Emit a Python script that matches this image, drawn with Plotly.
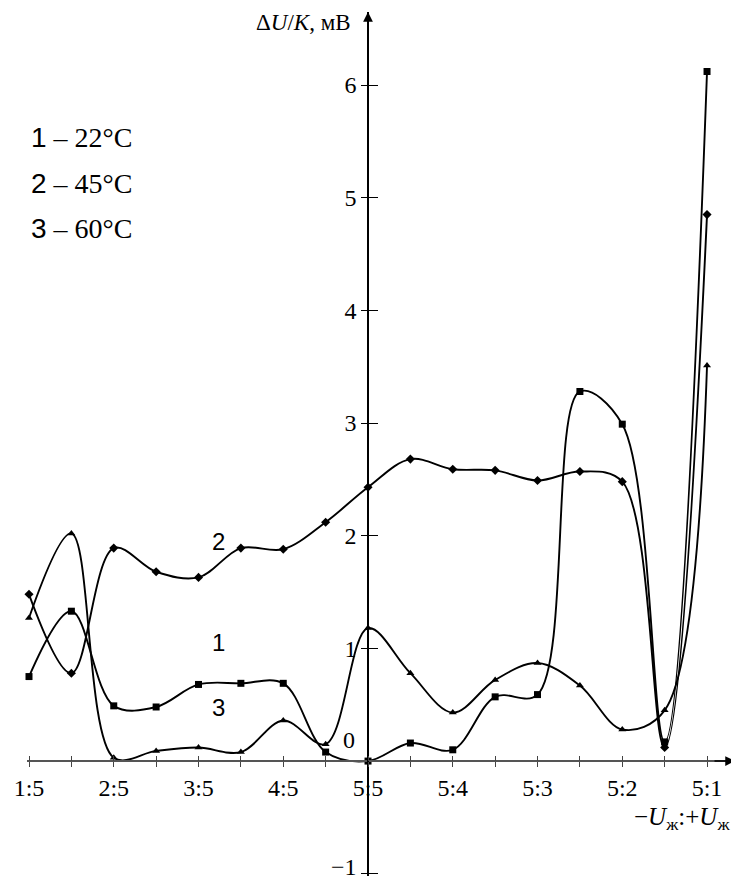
import plotly.graph_objects as go

# ---------------- data ----------------
categories = ["1:5", "2:5", "3:5", "4:5", "5:5", "5:4", "5:3", "5:2", "5:1"]
# measurement positions: every half step between the ratio categories (category index)
x_steps = [0, 0.5, 1, 1.5, 2, 2.5, 3, 3.5, 4, 4.5, 5, 5.5, 6, 6.5, 7, 7.5, 8]

t22 = [0.75, 1.33, 0.49, 0.48, 0.68, 0.69, 0.69, 0.08, 0.00, 0.16, 0.10,
       0.57, 0.59, 3.28, 2.99, 0.17, 6.12]
t45 = [1.48, 0.78, 1.89, 1.68, 1.63, 1.89, 1.88, 2.12, 2.43, 2.68, 2.59,
       2.58, 2.49, 2.57, 2.48, 0.12, 4.85]
t60 = [1.27, 2.02, 0.03, 0.09, 0.12, 0.08, 0.36, 0.15, 1.18, 0.78, 0.43,
       0.72, 0.87, 0.67, 0.28, 0.45, 3.51]

y_ticks = [-1, 1, 2, 3, 4, 5, 6]
y_ticktext = ["", "1", "2", "3", "4", "5", "6"]   # "−1" is drawn as an annotation (edge)
y_min_label = "\u22121"
legend_lines = [("1", "22°C"), ("2", "45°C"), ("3", "60°C")]

# ---------------- layout geometry ----------------
# the page body has an 8px margin, so the figure is offset by 8px
OFF = 8
W, H = 739 - OFF, 883 - OFF
y_range = [-1.02, 6.648]
PX_PER_Y = 112.67
ML, MR, MT = 27 - OFF, 4, 12 - OFF
MB = H - (761 - OFF) - (-y_range[0]) * PX_PER_Y
PW, PH = W - ML - MR, H - MT - MB
x_range = [-0.0236, 8.33]
y_axis_at_x = 4          # vertical axis passes through "5:5"
x_axis_at_y = 0

def px2paper(px, py):
    """page pixel position -> paper coordinates"""
    fx = (px - OFF - ML) / PW
    fy = (H - MB - (py - OFF)) / PH
    return fx, fy

serif = "Liberation Serif"
sans = "Liberation Sans"

fig = go.Figure()
markers = [("square", t22, 7), ("diamond", t45, 7), ("triangle-up", t60, 7)]
for sym, vals, sz in markers:
    fig.add_trace(go.Scatter(
        x=x_steps, y=vals, mode="lines+markers",
        line=dict(color="black", width=1.9, shape="spline", smoothing=1.0),
        marker=dict(symbol=sym, size=sz, color="black"),
        showlegend=False, cliponaxis=False, hoverinfo="skip"))

# dummy trace for the overlay axes (inside half of the crossing ticks)
fig.add_trace(go.Scatter(x=[None], y=[None], xaxis="x2", yaxis="y2",
                         showlegend=False, hoverinfo="skip"))

xpos_paper = (y_axis_at_x - x_range[0]) / (x_range[1] - x_range[0])
ypos_paper = (x_axis_at_y - y_range[0]) / (y_range[1] - y_range[0])

x_tickvals = x_steps
x_ticktext = [categories[int(v)] if float(v).is_integer() else "" for v in x_steps]

common_x = dict(range=x_range, domain=[0, 1], anchor="free", position=ypos_paper,
                showgrid=False, zeroline=False, tickmode="array", automargin=False,
                tickvals=x_tickvals, tickcolor="#444", tickwidth=1.2)
common_y = dict(range=y_range, domain=[0, 1], anchor="free", position=xpos_paper,
                showgrid=False, zeroline=False, tickmode="array", automargin=False,
                tickvals=y_ticks, tickcolor="black", tickwidth=1.2)

fig.update_layout(
    width=W, height=H,
    margin=dict(l=ML, r=MR, t=MT, b=MB, autoexpand=False),
    paper_bgcolor="white", plot_bgcolor="white",
    xaxis=dict(**common_x, ticktext=x_ticktext, ticks="outside", ticklen=5,
               showline=True, linecolor="#555", linewidth=1.5,
               ticklabeloverflow="allow",
               tickfont=dict(family=serif, size=24, color="black")),
    yaxis=dict(**common_y, ticktext=y_ticktext, ticks="outside", ticklen=6,
               showline=True, linecolor="black", linewidth=1.5,
               ticklabeloverflow="allow",
               tickfont=dict(family=serif, size=24, color="black")),
    xaxis2=dict(**common_x, overlaying="x", ticks="inside", ticklen=5,
                showticklabels=False, showline=False),
    yaxis2=dict(**common_y, overlaying="y", ticks="inside", ticklen=9,
                showticklabels=False, showline=False),
)

ann = []
# axis arrows
ann.append(dict(x=y_axis_at_x, y=y_range[1], xref="x", yref="y", text="",
                showarrow=True, ax=0, ay=22, arrowhead=2, arrowsize=1.3,
                arrowwidth=1.5, arrowcolor="black"))
ann.append(dict(x=x_range[1], y=x_axis_at_y, xref="x", yref="y", text="",
                showarrow=True, ax=-22, ay=0, arrowhead=2, arrowsize=1.3,
                arrowwidth=1.5, arrowcolor="black"))
# "0" label
ann.append(dict(x=y_axis_at_x, y=0, xref="x", yref="y", text="0", showarrow=False,
                xshift=-19, yshift=21, font=dict(family=serif, size=24, color="black")))
# "−1" label at the bottom end of the vertical axis
tx, ty = px2paper(359, 882)
ann.append(dict(x=tx, y=ty, xref="paper", yref="paper", xanchor="right", yanchor="bottom",
                text=y_min_label, showarrow=False,
                font=dict(family=serif, size=24, color="black")))
# axis titles
tx, ty = px2paper(353, 22)
ann.append(dict(x=tx, y=ty, xref="paper", yref="paper", xanchor="right", yanchor="middle",
                text="\u0394<i>U</i>/<i>K</i>, мВ", showarrow=False,
                font=dict(family=serif, size=23, color="black")))
tx, ty = px2paper(732, 818)
ann.append(dict(x=tx, y=ty, xref="paper", yref="paper", xanchor="right", yanchor="middle",
                text="\u2212<i>U</i><sub>ж</sub>:+<i>U</i><sub>ж</sub>", showarrow=False,
                font=dict(family=serif, size=25, color="black")))
# legend text
for (num, temp), py in zip(legend_lines, [137, 183, 228]):
    lx, ly = px2paper(29, py)
    ann.append(dict(x=lx, y=ly, xref="paper", yref="paper", xanchor="left", yanchor="middle",
                    text=f"<span style='font-family:{sans}'>{num}</span> \u2013 {temp}",
                    showarrow=False, font=dict(family=serif, size=28, color="black")))
# curve labels
for lab, py in [("2", 541), ("1", 658), ("3", 723)]:
    lx, ly = px2paper(210, py)
    ann.append(dict(x=lx, y=ly, xref="paper", yref="paper", text=lab, showarrow=False,
                    font=dict(family=sans, size=24, color="black")))

fig.update_layout(annotations=ann)
fig.write_html("out.html")
